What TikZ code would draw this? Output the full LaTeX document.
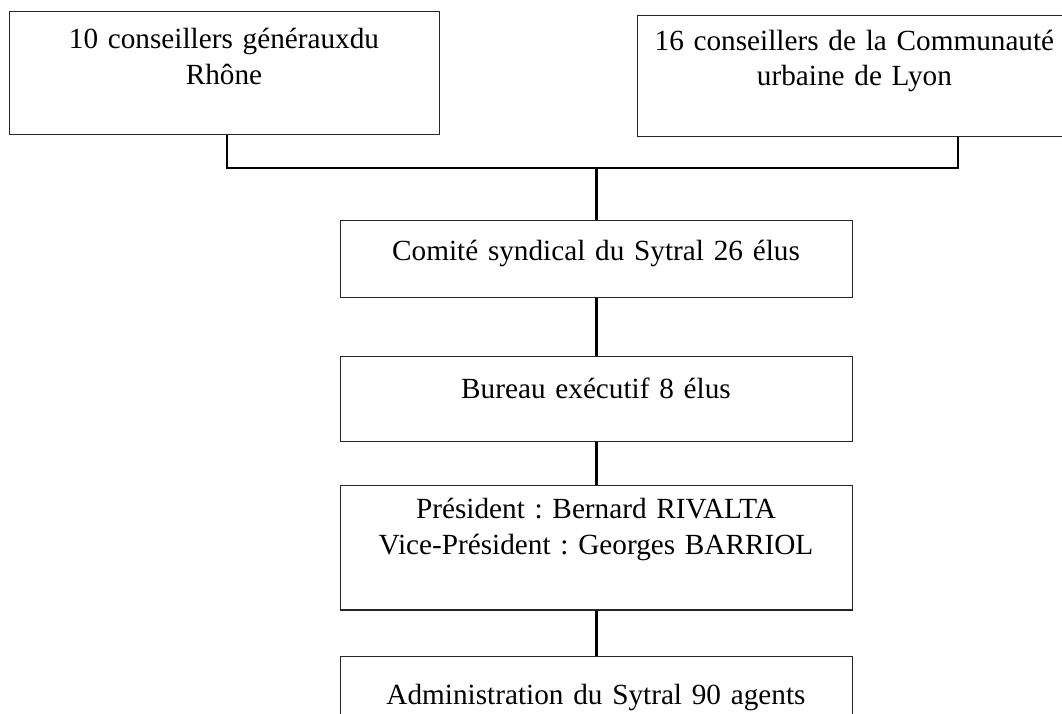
\documentclass[tikz,border=0pt]{standalone}
\usepackage{fontspec}
\setmainfont{Liberation Serif}
\frenchspacing
\usepackage{tikz}
\usetikzlibrary{positioning, calc}

\begin{document}
\begin{tikzpicture}[
    box/.style={rectangle, draw=black!85, line width=0.8pt, inner sep=0pt, anchor=north west, minimum width=12.8cm},
    txt/.style={anchor=base, align=center, text width=11cm, inner sep=0pt, font=\fontsize{20.8}{25.6}\selectfont},
    link/.style={draw=black, line width=1.6pt}
]

\useasboundingbox (0,0) rectangle (26.55,-17.825);

% top boxes
\node[box, minimum width=10.75cm, minimum height=3.09cm] (general) at (0.225,-0.2675) {};
\node[txt] (t-general) at (5.6,-1.2075) {10 conseillers générauxdu\\Rhône};

\node[box, minimum width=10.88cm, minimum height=3.02cm] (courly) at (15.9175,-0.375) {};
\node[txt] (t-courly) at (21.36,-1.25) {16 conseillers de la Communauté\\urbaine de Lyon};

% chain of boxes
\node[box, minimum height=1.925cm] (comite) at (8.5,-5.5) {};
\node[txt] (t-comite) at (14.9,-6.51) {Comité syndical du Sytral 26 élus};

\node[box, minimum height=2.13cm] (bureau) at (8.5,-8.89) {};
\node[txt] (t-bureau) at (14.9,-9.97) {Bureau exécutif 8 élus};

\node[box, minimum height=3.11cm] (president) at (8.5,-12.125) {};
\node[txt] (t-president) at (14.9,-12.97) {Président : Bernard RIVALTA\\Vice-Président : Georges BARRIOL};

\node[box, minimum height=2.5cm] (admin) at (8.5,-16.395) {};
\node[txt] (t-admin) at (14.9,-17.6) {Administration du Sytral 90 agents};

% bracket joining the two top boxes
\coordinate (brackL) at (5.67,-4.2);
\coordinate (brackR) at (23.95,-4.2);
\coordinate (brackM) at (comite.north |- brackL);

\draw[link] (brackL |- general.south) -- (brackL) -- (brackR) -- (brackR |- courly.south);
\draw[link] (brackM) -- (comite.north);

% vertical links
\draw[link] (comite.south) -- (bureau.north);
\draw[link] (bureau.south) -- (president.north);
\draw[link] (president.south) -- (admin.north);

\end{tikzpicture}
\end{document}
